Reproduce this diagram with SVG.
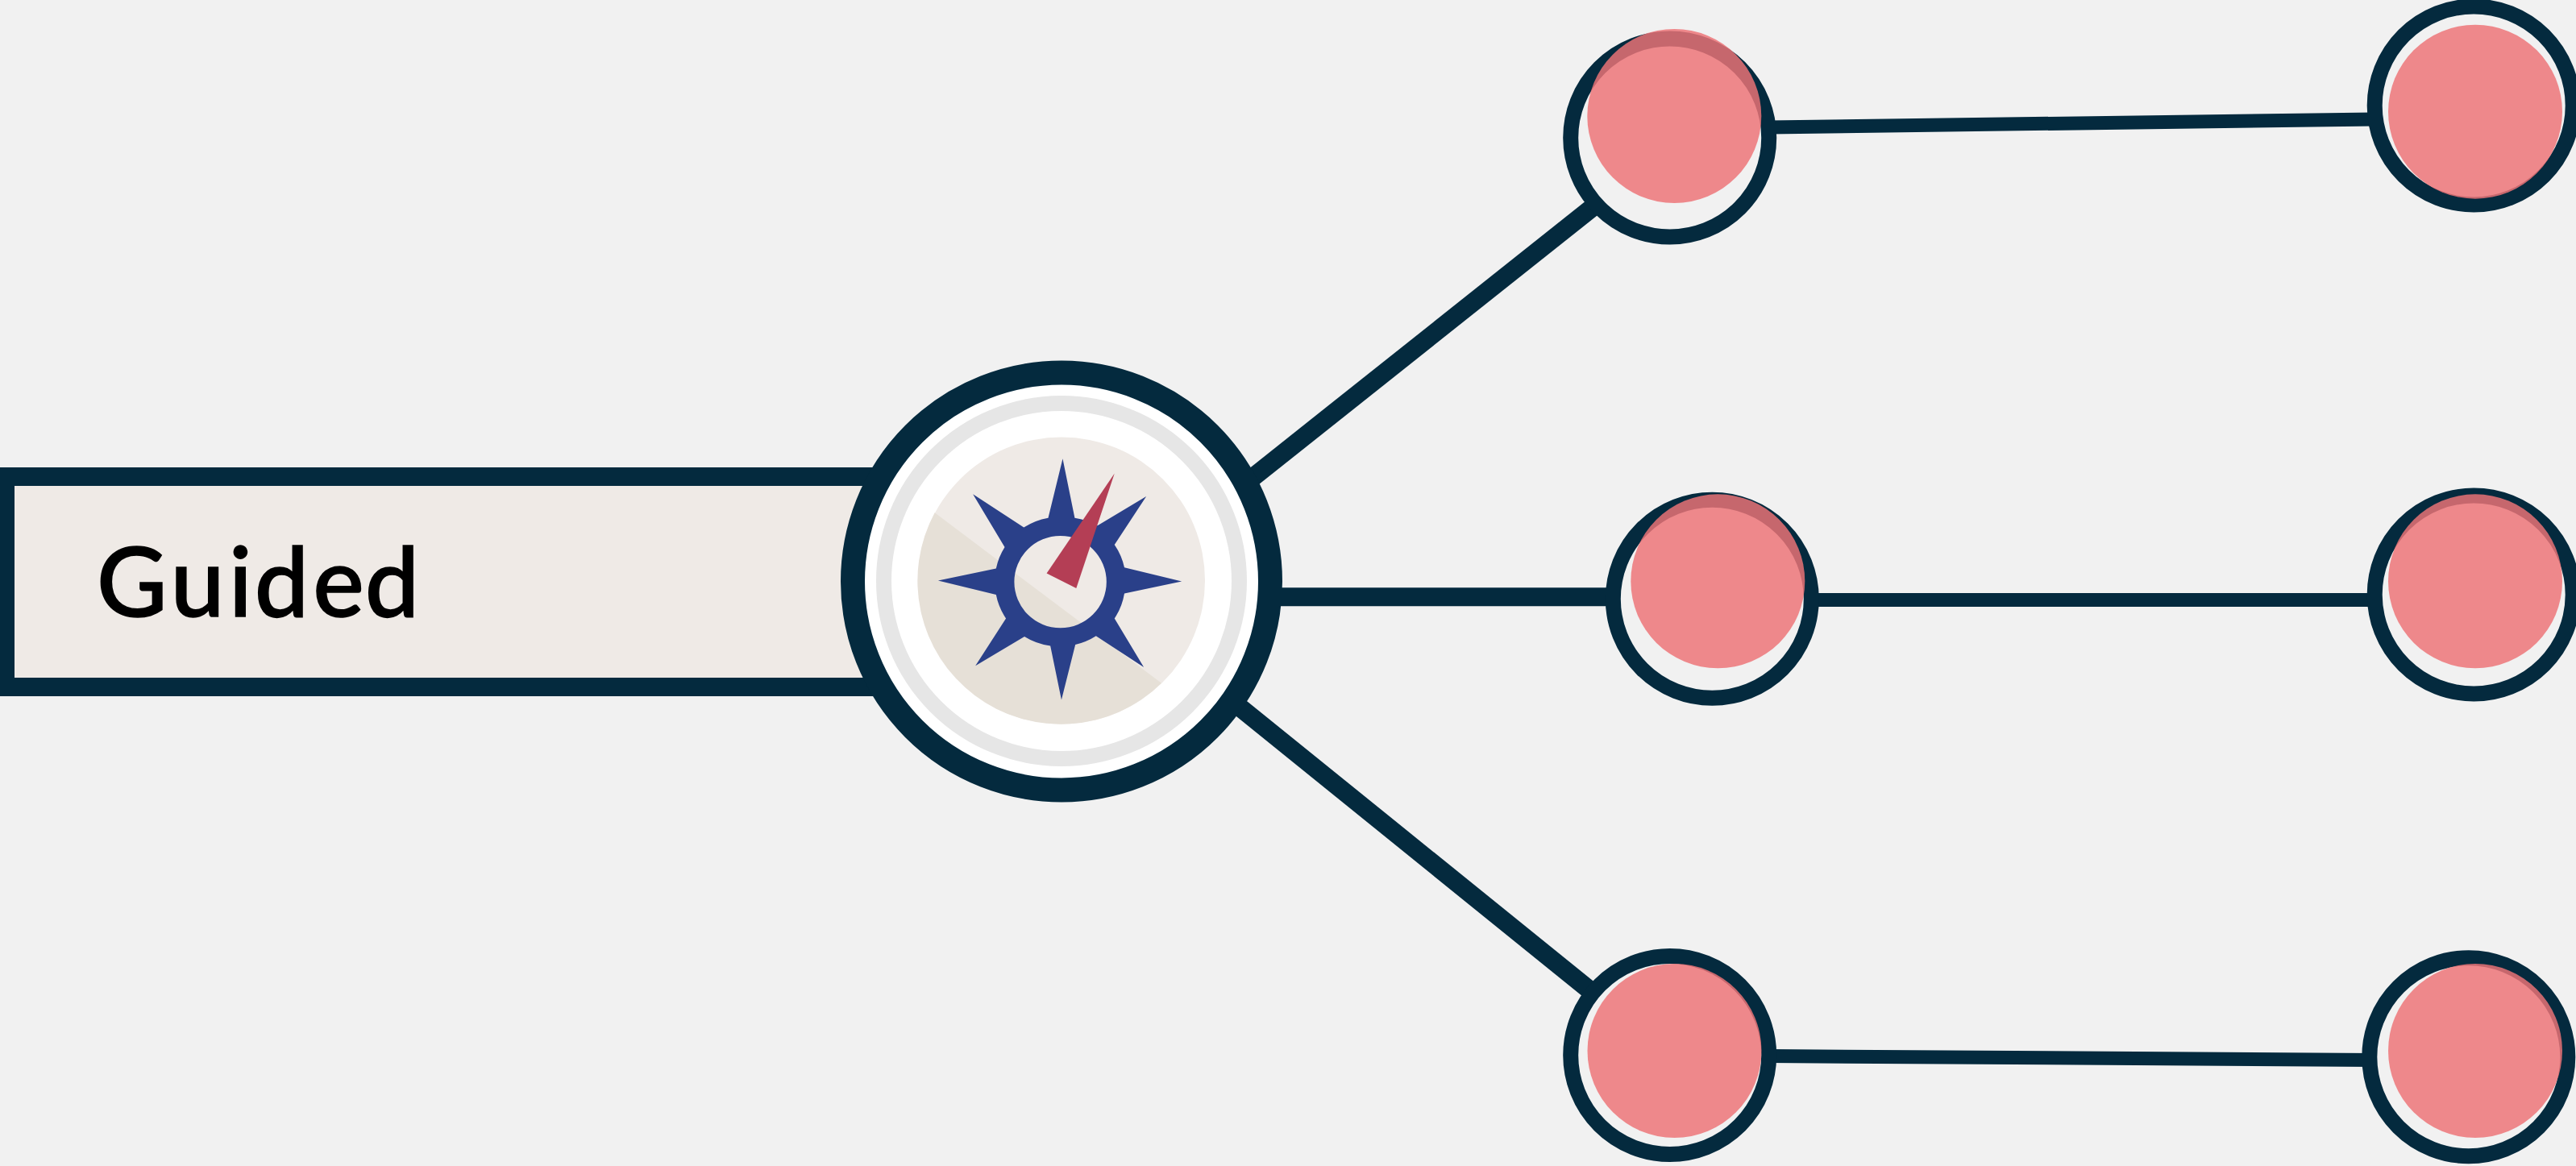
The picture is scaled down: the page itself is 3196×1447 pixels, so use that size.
<svg xmlns="http://www.w3.org/2000/svg" width="3196" height="1447" viewBox="0 0 3196 1447">
<style>
.line{fill:none;stroke:#042a3e}
.ring{fill:none;stroke:#042a3e;stroke-width:19}
.dot{fill:#ed7377;fill-opacity:.835}
.label{font-family:"Lato","Liberation Sans",sans-serif;font-size:120px;font-weight:500;letter-spacing:5px;fill:#000;stroke:#000;stroke-width:1.500px}
</style>
<rect width="3196" height="1447" fill="#f1f1f1"/>
<g id="connectors">
<path class="line" stroke-width="23" d="M1510 627.700L1981 253.300"/>
<path class="line" stroke-width="23" d="M1500 846.800L1976 1231.700"/>
<path class="line" stroke-width="23" d="M1550 740.700H2000"/>
<path class="line" stroke-width="17" d="M2195 158L2945 148"/>
<path class="line" stroke-width="17" d="M2245 744.500H2945"/>
<path class="line" stroke-width="17" d="M2195 1310.600L2945 1315.500"/>
</g>
<g id="guided">
<rect x="6.500" y="591.500" width="1200" height="261" fill="#efeae6" stroke="#042a3e" stroke-width="23"/>
<text class="label" x="120" y="765" dx="0 0 0 -2 0 -4">Guided</text>
</g>
<g id="compass">
<circle cx="1317" cy="721.500" r="259" fill="#fff" stroke="#042a3e" stroke-width="30"/>
<circle cx="1317" cy="721" r="220.500" fill="none" stroke="#e6e6e6" stroke-width="19"/>
<circle cx="1317" cy="720.500" r="178" fill="#efeae6"/>
<path d="M1159.700 636.200A178 178 0 0 0 1441 847.800Z" fill="#e6e0d7"/>
<g transform="translate(1020 420) scale(.38265)">
<path fill="#2a4089" fill-rule="evenodd" d="M780 390L819 582A210 210 0 0 1 893 607L1051 512L948 669A210 210 0 0 1 980 743L1166 788L980 827A210 210 0 0 1 948 908L1043 1066L888 965A210 210 0 0 1 821 993L776 1172L740 997A210 210 0 0 1 656 967L497 1062L596 908A210 210 0 0 1 564 831L376 785L564 746A210 210 0 0 1 592 677L489 505L654 613A210 210 0 0 1 733 582ZM772.500 640A148 148 0 1 0 772.500 939A148 148 0 1 0 772.500 640Z"/>
<path fill="#b43e55" d="M948 438L728 762L824 810Z"/>
</g>
</g>
<g id="node-top-mid"><circle class="ring" cx="2071.700" cy="171" r="123"/><circle class="dot" cx="2077.300" cy="144" r="108"/></g>
<g id="node-top-right"><circle class="ring" cx="3069.200" cy="131" r="123"/><circle class="dot" cx="3071" cy="138.700" r="108"/></g>
<g id="node-mid-mid"><circle class="ring" cx="2124.300" cy="743.200" r="123"/><circle class="dot" cx="2131.300" cy="721.300" r="108"/></g>
<g id="node-mid-right"><circle class="ring" cx="3069.200" cy="738" r="123"/><circle class="dot" cx="3071" cy="721.300" r="108"/></g>
<g id="node-bot-mid"><circle class="ring" cx="2071.700" cy="1309.500" r="123"/><circle class="dot" cx="2077.500" cy="1304" r="108"/></g>
<g id="node-bot-right"><circle class="ring" cx="3062.800" cy="1311.700" r="123"/><circle class="dot" cx="3071" cy="1304" r="108"/></g>
</svg>
